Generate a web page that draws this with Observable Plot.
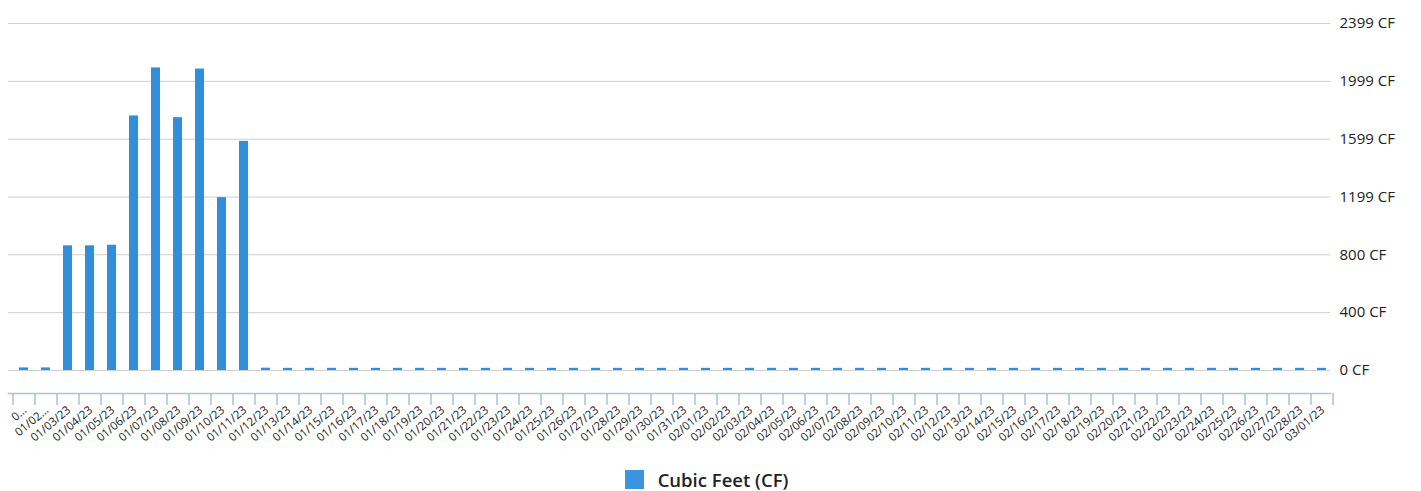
<!DOCTYPE html>
<html>
<head>
<meta charset="utf-8">
<script src="https://cdn.jsdelivr.net/npm/d3@7"></script>
<script src="https://cdn.jsdelivr.net/npm/@observablehq/plot@0.6"></script>
<style>
  html, body { margin: 0; padding: 0; background: #fff; }
  body { width: 1421px; height: 491px; overflow: hidden; font-family: "Open Sans", "DejaVu Sans", sans-serif; }
  #legend { display: flex; justify-content: center; align-items: center; margin-top: 12px; font-size: 18.5px; font-weight: 600; color: #222; }
  #legend .sw { width: 19px; height: 19px; background: #3a95dd; margin-right: 14px; margin-left: -8px; }
</style>
</head>
<body>
<div id="chart"></div>
<div id="legend"><span class="sw"></span><span>Cubic Feet (CF)</span></div>
<script>
// Dates (categories)
const dates = [
  "01/01/23","01/02/23","01/03/23","01/04/23","01/05/23","01/06/23","01/07/23","01/08/23","01/09/23","01/10/23",
  "01/11/23","01/12/23","01/13/23","01/14/23","01/15/23","01/16/23","01/17/23","01/18/23","01/19/23","01/20/23",
  "01/21/23","01/22/23","01/23/23","01/24/23","01/25/23","01/26/23","01/27/23","01/28/23","01/29/23","01/30/23",
  "01/31/23","02/01/23","02/02/23","02/03/23","02/04/23","02/05/23","02/06/23","02/07/23","02/08/23","02/09/23",
  "02/10/23","02/11/23","02/12/23","02/13/23","02/14/23","02/15/23","02/16/23","02/17/23","02/18/23","02/19/23",
  "02/20/23","02/21/23","02/22/23","02/23/23","02/24/23","02/25/23","02/26/23","02/27/23","02/28/23","03/01/23"
];
// Displayed tick labels (first two truncated as in the original)
const tickLabels = ["0...", "01/02..."].concat(dates.slice(2));
// Cubic feet per day
const cubicFeet = [
  18, 18, 862, 862, 866, 1760, 2092, 1748, 2084, 1195,
  1584, 16, 15, 15, 15, 15, 15, 15, 15, 15,
  15, 15, 15, 15, 15, 15, 15, 15, 15, 15,
  15, 15, 15, 15, 15, 15, 15, 15, 15, 15,
  15, 15, 15, 15, 15, 15, 15, 15, 15, 15,
  15, 15, 15, 15, 15, 15, 15, 15, 15, 15
];
// Y-axis ticks
const yTicks = [0, 400, 800, 1199, 1599, 1999, 2399];

const data = dates.map((d, i) => ({date: d, value: cubicFeet[i]}));
const labelOf = new Map(dates.map((d, i) => [d, tickLabels[i]]));

const xLeft = 12, xRight = 1333;
const step = (xRight - xLeft) / dates.length;
const axisColor = "#a9c3dc";

const chart = Plot.plot({
  width: 1421,
  height: 455,
  marginTop: 23,
  marginBottom: 62,
  marginLeft: 8,
  marginRight: 91,
  style: {fontFamily: "'Open Sans', 'DejaVu Sans', sans-serif", background: "#fff", color: "#222"},
  x: {type: "band", domain: dates, range: [xLeft, xRight], paddingInner: 0.6, paddingOuter: 0.3},
  y: {domain: [0, 2399], range: [370, 23]},
  marks: [
    Plot.gridY(yTicks, {stroke: "#cfcfcf", strokeOpacity: 1, strokeWidth: 1}),
    Plot.barY(data, {x: "date", y: "value", fill: "#2f8fdb"}),
    Plot.axisY(yTicks, {anchor: "right", tickSize: 0, tickPadding: 9, tickFormat: d => `${d} CF`, fontSize: 15, fill: "#222", label: null}),
    Plot.frame({anchor: "bottom", stroke: axisColor, strokeWidth: 1.5}),
    Plot.axisX({tickSize: 12, stroke: axisColor, strokeWidth: 1.5, dx: step / 2, tickFormat: () => null, label: null}),
    Plot.axisX([dates[0]], {tickSize: 12, stroke: axisColor, strokeWidth: 1.5, dx: -step / 2, tickFormat: () => null, label: null}),
    Plot.axisX({tickSize: 0, tickPadding: 15, tickRotate: -40, tickFormat: d => labelOf.get(d), fontSize: 11.5, fill: "#222", label: null, dx: 1})
  ]
});
document.getElementById("chart").appendChild(chart);
</script>
</body>
</html>
